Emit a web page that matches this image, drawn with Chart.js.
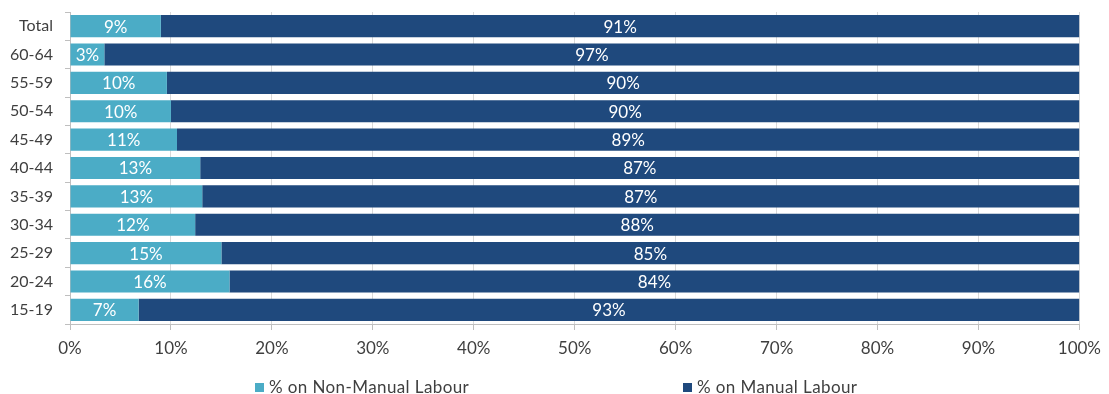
<!DOCTYPE html>
<html>
<head>
<meta charset="utf-8">
<script src="https://cdn.jsdelivr.net/npm/chart.js@4/dist/chart.umd.min.js"></script>
<style>
  html, body { margin: 0; padding: 0; background: #fff; }
  #wrap { position: relative; width: 1109px; height: 394px; overflow: hidden; }
  .legend-item {
    position: absolute; top: 378px;
    font: 17px 'Lato', 'Open Sans', sans-serif; color: #3f3f3f;
    white-space: nowrap; line-height: 18px; letter-spacing: 0.4px;
  }
  .legend-item i {
    display: inline-block; width: 9px; height: 9px; margin-right: 5px;
    vertical-align: 1px;
  }
</style>
</head>
<body>
<div id="wrap">
  <canvas id="chart"></canvas>
  <div id="legend"></div>
</div>
<script>
const ageGroups = ['Total', '60-64', '55-59', '50-54', '45-49', '40-44', '35-39', '30-34', '25-29', '20-24', '15-19'];
const nonManual = [9.0, 3.4, 9.6, 10.0, 10.6, 12.9, 13.1, 12.4, 15.0, 15.8, 6.8];
const manual    = [91.0, 96.6, 90.4, 90.0, 89.4, 87.1, 86.9, 87.6, 85.0, 84.2, 93.2];
const xTicks = [0, 10, 20, 30, 40, 50, 60, 70, 80, 90, 100];
const seriesNames = ['% on Non-Manual Labour', '% on Manual Labour'];
const seriesColors = ['#4bacc6', '#1f497d'];

const FONT = "'Lato', 'Open Sans', sans-serif";
const TEXT = '#3f3f3f';

// percentage written in the middle of each segment
const segmentLabels = {
    id: 'segmentLabels',
    afterDatasetsDraw(chart) {
        const { ctx } = chart;
        ctx.save();
        ctx.fillStyle = '#ffffff';
        ctx.font = '17px ' + FONT;
        ctx.textAlign = 'center';
        ctx.textBaseline = 'middle';
        chart.data.datasets.forEach((ds, i) => {
            chart.getDatasetMeta(i).data.forEach((bar, j) => {
                const x = (bar.base + bar.x) / 2;
                ctx.fillText(Math.round(ds.data[j]) + '%', x, bar.y + 1);
            });
        });
        ctx.restore();
    }
};

const chart = new Chart(document.getElementById('chart').getContext('2d'), {
    type: 'bar',
    data: {
        labels: ageGroups,
        datasets: seriesNames.map((name, i) => ({
            label: name,
            data: i === 0 ? nonManual : manual,
            backgroundColor: seriesColors[i],
            categoryPercentage: 1,
            barPercentage: 0.78
        }))
    },
    options: {
        indexAxis: 'y',
        responsive: true,
        maintainAspectRatio: false,
        animation: false,
        layout: { autoPadding: false, padding: { top: 12, right: 29, bottom: 30, left: 0 } },
        plugins: {
            legend: { display: false },
            tooltip: { enabled: false }
        },
        scales: {
            x: {
                stacked: true,
                min: 0,
                max: 100,
                afterBuildTicks(axis) { axis.ticks = xTicks.map(v => ({ value: v })); },
                ticks: {
                    color: TEXT,
                    font: { family: FONT, size: 17 },
                    padding: 8,
                    callback: v => v + '%'
                },
                grid: { color: '#d9d9d9', tickLength: 6, tickColor: '#bfbfbf' },
                border: { color: '#bfbfbf' },
                afterFit(axis) { axis.height = 40; }
            },
            y: {
                stacked: true,
                ticks: {
                    color: TEXT,
                    font: { family: FONT, size: 16 },
                    padding: 12
                },
                grid: { drawOnChartArea: false, tickLength: 5, color: '#bfbfbf' },
                border: { color: '#bfbfbf' },
                // keep the label padding from pushing the plot down
                afterFit(axis) {
                    axis.width = 70;
                    axis.paddingTop = 0;
                    axis.paddingBottom = 0;
                }
            }
        }
    },
    plugins: [segmentLabels]
});

// legend built as html, two items spread far apart like the original
const legendLeft = [255, 683];
const legend = document.getElementById('legend');
chart.data.datasets.forEach((ds, i) => {
    const item = document.createElement('div');
    item.className = 'legend-item';
    item.style.left = legendLeft[i] + 'px';
    item.innerHTML = '<i style="background:' + ds.backgroundColor + '"></i>' + ds.label;
    legend.appendChild(item);
});
</script>
</body>
</html>
